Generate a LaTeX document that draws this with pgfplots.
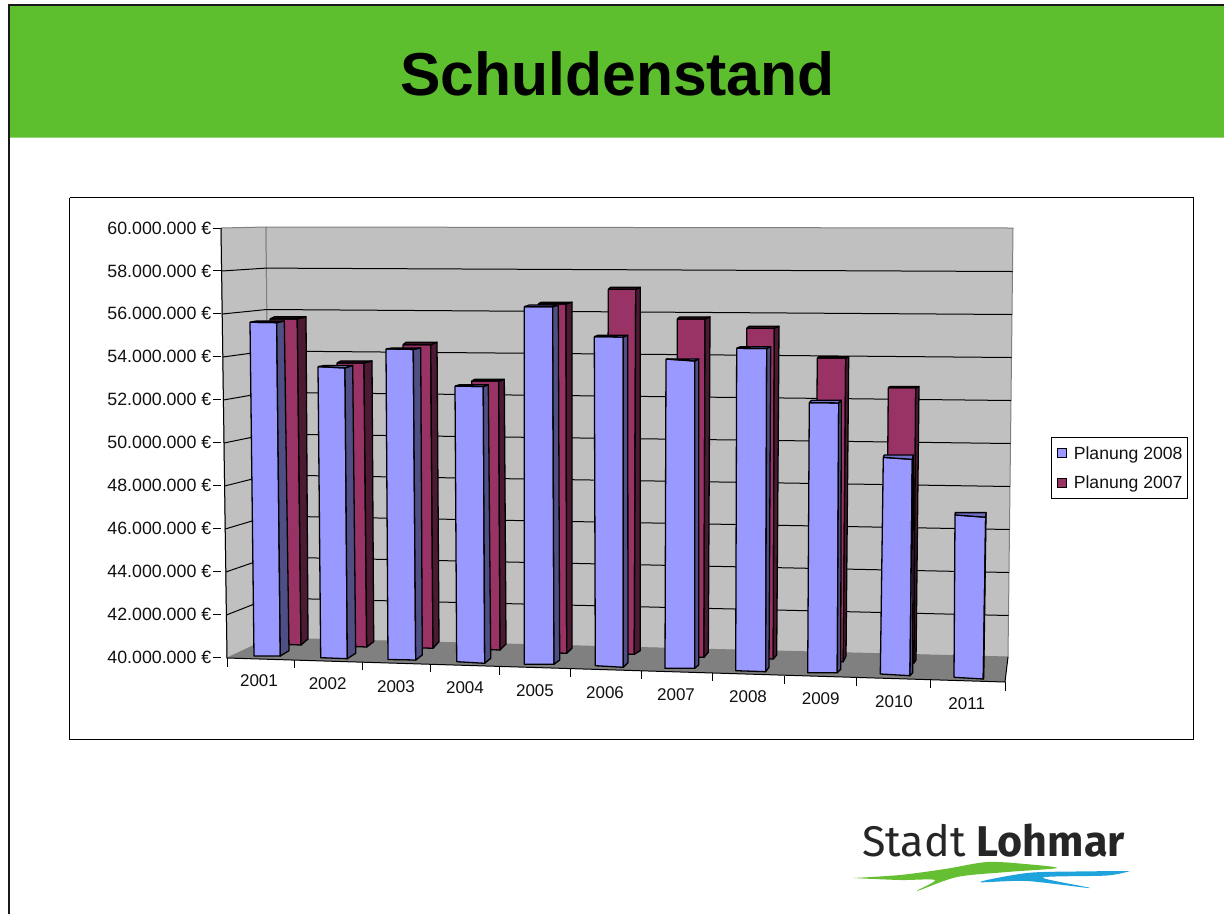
\documentclass[border=0pt]{standalone}
\usepackage{pgfplots}
\pgfplotsset{compat=1.18}
\usepackage{fontspec}
\setmainfont{Liberation Sans}
\newfontfamily\logofont{Fira Sans}
\definecolor{hdr}{HTML}{5DBE2E}
\definecolor{wall}{HTML}{C0C0C0}
\definecolor{floorc}{HTML}{808080}
\definecolor{lavF}{HTML}{9999FF}
\definecolor{lavS}{HTML}{4F4F85}
\definecolor{lavT}{HTML}{7070C8}
\definecolor{marF}{HTML}{993366}
\definecolor{marS}{HTML}{4D1A33}
\definecolor{marT}{HTML}{3A1026}
\definecolor{txt}{HTML}{111111}
\definecolor{logog}{HTML}{66BF33}
\definecolor{logob}{HTML}{1FA3DC}
\tikzset{xl/.style={font=\fontsize{17}{17}\selectfont,text=txt,inner sep=0pt}}
\newcommand{\ya}[2]{\pgfmathsetmacro#1{40+(657-(#2))/21.45}}
% one bar: reads value \V and the outline of the bar
\newcommand{\drawbar}[6]{% face, side, top, scale, back-left factor, line width
  \ya\pA{\yBL-(\V-40)*#4}%
  \ya\pB{\yBL-(\V-40)*#4+\tilt}%
  \ya\pC{\yBL}\ya\pD{\yBR}%
  \ya\pE{\yBL-(\V-40)*#4-\db}%
  \ya\pF{\ySB}%
  \pgfmathsetmacro\xBk{\xTL+(\xST-\xTR)*#5}%
  \edef\temp{\noexpand\addplot[forget plot,fill=#1,draw=black,line width=#6,line join=round] coordinates {(\xTL,\pA)(\xTR,\pB)(\xBR,\pD)(\xBL,\pC)(\xTL,\pA)};
   \noexpand\addplot[forget plot,fill=#2,draw=black,line width=#6,line join=round] coordinates {(\xTR,\pB)(\xST,\pE)(\xSB,\pF)(\xBR,\pD)(\xTR,\pB)};
   \noexpand\addplot[forget plot,fill=#3,draw=black,line width=#6,line join=round] coordinates {(\xTL,\pA)(\xBk,\pE)(\xST,\pE)(\xTR,\pB)(\xTL,\pA)};}%
  \temp}
\begin{document}
\begin{tikzpicture}[x=1pt,y=1pt]
\useasboundingbox (0pt,0pt) rectangle (1224pt,914pt);
% ---------- page, walls, grid, labels: pixel coordinates
\begin{axis}[name=bg,at={(0pt,0pt)},anchor=south west,width=1224pt,height=914pt,scale only axis,
  xmin=0,xmax=1224,ymin=0,ymax=914,y dir=reverse,hide axis,clip=true]
\addplot[forget plot,fill=hdr,draw=none] coordinates {(9,5)(1224,5)(1224,137.5)(9,137.5)(9,5)};
\addplot[forget plot,draw=black!90,line width=2pt] coordinates {(9.3,914)(9.3,5)(1224,5)};
\addplot[forget plot,fill=white,draw=black,line width=1pt] coordinates {(69.5,197.5)(1193,197.5)(1193,739)(69.5,739)(69.5,197.5)};
\node[font=\fontsize{60.6}{60}\selectfont\bfseries,text=black,inner sep=0pt] at (617.5,74) {Schuldenstand};
% walls and floor
\addplot[forget plot,fill=wall,draw=floorc,line width=1pt] coordinates {(221,228)(266,227)(270,638)(227,658)(221,228)};
\addplot[forget plot,fill=wall,draw=floorc,line width=1pt] coordinates {(266,227)(1013,228)(1008,657)(270,638)(266,227)};
\addplot[forget plot,fill=floorc,draw=none] coordinates {(227,658)(270,638)(1008,657)(1005,682)(227,658)};
% grid
\addplot[forget plot,draw=black,line width=1pt] coordinates {(221.6,271)(266.4,268.1)(1012.5,271.5)};
\addplot[forget plot,draw=black,line width=1pt] coordinates {(222.2,314)(266.8,309.5)(1012,314.5)};
\addplot[forget plot,draw=black,line width=1pt] coordinates {(222.8,357)(267.2,351)(1011.5,357.5)};
\addplot[forget plot,draw=black,line width=1pt] coordinates {(223.4,400)(267.6,392.3)(1011,400.5)};
\addplot[forget plot,draw=black,line width=1pt] coordinates {(224,443)(268,434)(1010.5,443.5)};
\addplot[forget plot,draw=black,line width=1pt] coordinates {(224.6,486)(268.4,475)(1010,486.5)};
\addplot[forget plot,draw=black,line width=1pt] coordinates {(225.2,529)(268.8,516)(1009.5,529.5)};
\addplot[forget plot,draw=black,line width=1pt] coordinates {(225.8,572)(269.2,557)(1009,572.5)};
\addplot[forget plot,draw=black,line width=1pt] coordinates {(226.4,615)(269.6,598)(1008.5,615.5)};
% left axis edge, front edge, x ticks
\addplot[forget plot,draw=black,line width=1pt] coordinates {(221,228)(227,658)(1005,682)(1008,657)};
\addplot[forget plot,draw=black,line width=0.8pt] coordinates {(227,658)(227,666.5)};
\addplot[forget plot,draw=black,line width=0.8pt] coordinates {(294,660)(294,668)};
\addplot[forget plot,draw=black,line width=0.8pt] coordinates {(362,662)(362,670)};
\addplot[forget plot,draw=black,line width=0.8pt] coordinates {(430,664.5)(430,672)};
\addplot[forget plot,draw=black,line width=0.8pt] coordinates {(499.7,666.5)(499.7,674.5)};
\addplot[forget plot,draw=black,line width=0.8pt] coordinates {(570,668.5)(570,676.5)};
\addplot[forget plot,draw=black,line width=0.8pt] coordinates {(641.7,671)(641.7,679)};
\addplot[forget plot,draw=black,line width=0.8pt] coordinates {(712,673)(712,681)};
\addplot[forget plot,draw=black,line width=0.8pt] coordinates {(784,675.5)(784,683.5)};
\addplot[forget plot,draw=black,line width=0.8pt] coordinates {(856,677.5)(856,685.5)};
\addplot[forget plot,draw=black,line width=0.8pt] coordinates {(930,679.5)(930,687.5)};
\addplot[forget plot,draw=black,line width=0.8pt] coordinates {(1005,682)(1005,690.5)};
% category names
\node[xl] at (259,680.7) {2001};
\node[xl] at (327.7,684) {2002};
\node[xl] at (396,686.3) {2003};
\node[xl] at (465,688) {2004};
\node[xl] at (535,691) {2005};
\node[xl] at (605,692.7) {2006};
\node[xl] at (676,695) {2007};
\node[xl] at (748,697) {2008};
\node[xl] at (820.7,699) {2009};
\node[xl] at (894,701.7) {2010};
\node[xl] at (966.7,703.5) {2011};
% logo
\node[font=\fontsize{43}{43}\selectfont\logofont,text=black!85,inner sep=0pt,anchor=base west] at (862,856) {Stadt \textbf{Lohmar}};
\fill[logog,smooth] plot coordinates {(853,878)(900,875)(945,869)(987,862)(1025,864)(1057,868)(1007,872)(957,877)(917,891)(935,880)(900,880)(853,878)};
\fill[logob,smooth] plot coordinates {(1130,871)(1075,871.5)(1027,873)(980,882)(1027,881)(1090,888)(1043,877.5)(1107,875.5)(1130,871)};
\end{axis}
% ---------- data axis
\begin{axis}[at={(221pt,257pt)},anchor=south west,width=792pt,height=429pt,scale only axis,
  xmin=221,xmax=1013,ymin=40,ymax=60,clip=false,
  axis x line=none,axis y line=left,axis line style={draw=none,-},
  ytick={40,42,...,60},
  yticklabels={40.000.000 €,42.000.000 €,44.000.000 €,46.000.000 €,48.000.000 €,50.000.000 €,52.000.000 €,54.000.000 €,56.000.000 €,58.000.000 €,60.000.000 €},
  major tick length=8pt,tick style={draw=black,line width=0.9pt},tick align=outside,
  yticklabel style={font=\fontsize{17.8}{17.8}\selectfont,text=txt,inner sep=0pt,xshift=-1.5pt},
  legend style={at={(1.0484,0.5121)},anchor=north west,draw=black,line width=1pt,font=\fontsize{17.6}{17.6}\selectfont,text=txt,
    inner xsep=3pt,inner ysep=6.5pt,row sep=11pt,cells={anchor=west}},
  legend image code/.code={\path[draw=none,fill=none] (0pt,0pt) -- (17pt,0pt);\draw[#1] (2.5pt,-4.5pt) rectangle (11.5pt,4.5pt);},
]
\addlegendimage{fill=lavF,draw=black,line width=0.9pt}
\addlegendimage{fill=marF,draw=black,line width=0.9pt}
\legend{Planung 2008,Planung 2007}
% Planung 2007 (value in million euro, then outline of the bar in picture units)
\foreach \V/\xTL/\xTR/\xBL/\xBR/\yBL/\yBR/\tilt/\xST/\db/\xSB/\ySB in {
 55.63/270/297.3/274/301/644/645/0/306/2/308/639,
 53.61/337/364/340/366.7/646/647/0/372/2/373.7/641.7,
 54.55/403/430.7/406/433/647.3/648.3/0/437/2.4/439/641.7,
 52.88/471.7/498.7/473/500/649/650/0/504.3/1.7/506/644,
 56.75/538.3/566/539/566.7/652.3/653.3/0/572/1.7/572/648.3,
 57.51/608.3/635.7/607/634.3/653.5/654.3/0/640.3/2/640.3/650.7,
 56.22/677.3/705/676/704/656.3/657.3/0/710/2/708.3/652.3,
 55.85/746.7/774.3/745.7/773.3/658/659/0/779/2/776.7/655,
 54.55/817.3/845.7/815/843.3/660.7/661.7/0/848.7/1.3/846/656,
 53.19/888.3/915.7/886/914/662/663/0/919/1/916/660}
 {\drawbar{marF}{marS}{marT}{20.8}{0.5}{1.3pt}}
% Planung 2008
\foreach \V/\xTL/\xTR/\xBL/\xBR/\yBL/\yBR/\tilt/\xST/\db/\xSB/\ySB in {
 55.56/250/276.7/254/280.3/656/656/0.4/284.3/1.3/289/650.7,
 53.57/318/345/320.7/347.3/657.7/658.7/1.3/352.7/1.2/355.7/653.3,
 54.48/386/413.3/388/415.7/659.5/660/0.5/420.7/1/422.3/655,
 52.85/455/483.3/456.7/484.7/661.7/663.3/0.5/488.3/1.3/490.7/658.3,
 56.67/524.3/552.7/524.3/554/664.3/664.3/0/558.3/1.7/559.7/660,
 55.34/594.3/623.3/595.3/623.3/665.7/667.3/0.3/627.7/1.4/628/662.7,
 54.42/666/694.7/665/694.7/668.3/668.3/2/698.7/0/698.7/665,
 55.03/736.7/766.7/735.7/765.7/670.7/671.7/0.2/770.7/1.6/769/667.3,
 52.59/809.3/838.7/807.7/837.3/672.7/672.7/0.3/841.3/2.4/840.7/669.3,
 50.10/883.3/912.3/880.3/910/674/675.7/2/913.3/2.3/912.7/672.7,
 47.57/955/985.7/954/983.3/677.3/679/2.3/986/2.3/983.7/678}
 {\drawbar{lavF}{lavS}{lavT}{21.45}{0.9}{1.3pt}}
\end{axis}
\end{tikzpicture}
\end{document}
